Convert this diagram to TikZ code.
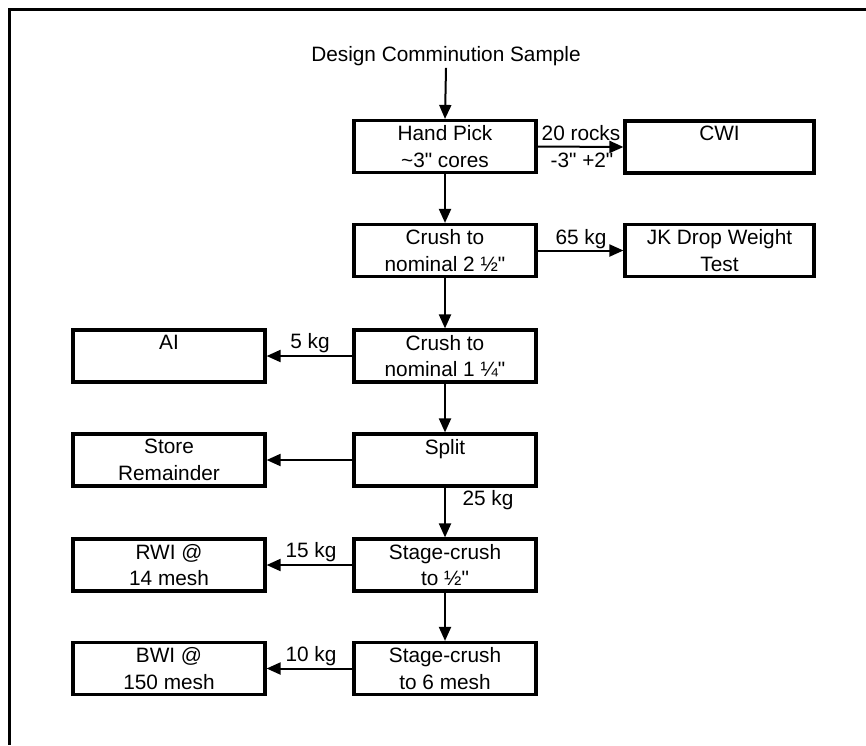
\documentclass[tikz,border=0pt]{standalone}
\usepackage{fontspec}
\setmainfont{Liberation Sans}[Ligatures=TeXOff]
\usetikzlibrary{arrows.meta}
\begin{document}
\begin{tikzpicture}[x=1pt,y=-1pt,
  font=\fontsize{20.8}{26.5}\selectfont,
  box/.style={draw, line width=3.2pt, align=center, inner sep=0pt, minimum height=52pt},
  midbox/.style={box, minimum width=182pt},
  rbox/.style={box, minimum width=189pt},
  lbox/.style={box, minimum width=192pt},
  flow/.style={line width=2pt, -{Triangle[length=14pt,width=12pt]}},
  lbl/.style={inner sep=0pt}]
\useasboundingbox (0,0) rectangle (866,745);
\draw[line width=2.8pt] (866,9.5) -- (9.5,9.5) -- (9.5,745);

\node[lbl] (title) at (446,56) {Design Comminution Sample};

\node[midbox] (hp) at (445,146.5) {Hand Pick\\\textasciitilde3" cores};
\node[rbox] (cwi) at (719.5,147) {CWI\\\phantom{Test}};
\node[midbox] (c2) at (445,250.5) {Crush to\\nominal 2 ½"};
\node[rbox] (jk) at (719.5,250.5) {JK Drop Weight\\Test};
\node[midbox] (c1) at (445,356) {Crush to\\nominal 1 ¼"};
\node[lbox] (ai) at (169,356) {AI\\\phantom{Test}};
\node[midbox] (sp) at (445,460) {Split\\\phantom{Test}};
\node[lbox] (st) at (169,460) {Store\\Remainder};
\node[midbox] (s1) at (445,565) {Stage-crush\\to ½"};
\node[lbox] (rwi) at (169,565) {RWI @\\14 mesh};
\node[midbox] (s2) at (445,668.5) {Stage-crush\\to 6 mesh};
\node[lbox] (bwi) at (169,668.5) {BWI @\\150 mesh};

\draw[flow] (title.south) ++(0,2) coordinate (t0) (t0) -- (hp.north);
\draw[flow] (hp) -- (c2);
\draw[flow] (c2) -- (c1);
\draw[flow] (c1) -- (sp);
\draw[flow] (sp) -- (s1);
\draw[flow] (s1) -- (s2);

\draw[flow] (hp.east) -- (cwi.west);
\draw[flow] (c2.east) -- (jk.west);
\draw[flow] (c1.west) -- (ai.east);
\draw[flow] (sp.west) -- (st.east);
\draw[flow] (s1.west) -- (rwi.east);
\draw[flow] (s2.west) -- (bwi.east);

\node[lbl] (l20) at (581,133) {20 rocks};
\node[lbl] (l32) at (582,160) {-3" +2"};
\node[lbl] (l65) at (581,239) {65 kg};
\node[lbl] (l5) at (310,343) {5 kg};
\node[lbl] (l25) at (488,500) {25 kg};
\node[lbl] (l15) at (311,552) {15 kg};
\node[lbl] (l10) at (311,656) {10 kg};
\end{tikzpicture}
\end{document}
